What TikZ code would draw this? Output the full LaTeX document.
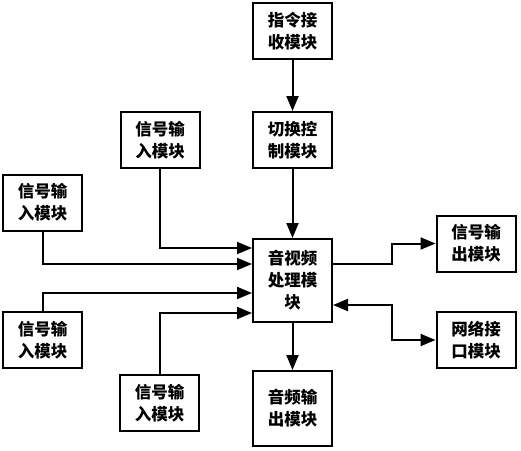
\documentclass[tikz,border=0pt]{standalone}
\usepackage{fontspec}
\newfontfamily\cjk{Noto Sans CJK SC}
\usetikzlibrary{arrows.meta,positioning}

\begin{document}
\begin{tikzpicture}[x=1pt,y=-1pt,line width=2pt,
				node distance=51pt,
				link/.style={-{Triangle[length=15pt,width=12pt]}},
				both link/.style={{Triangle[length=15pt,width=12pt]}-{Triangle[length=15pt,width=12pt]}},
				main node/.style={draw,rectangle,minimum width=79pt,minimum height=56pt,align=center,inner sep=2pt,
				font=\cjk\bfseries\fontsize{16.5}{22}\selectfont}]
				
				\useasboundingbox (0,0) rectangle (521,450);
				
				\node[main node] (cmd) at (292.5,31) {指令接\\收模块};
				\node[main node] (sw) [below=51pt of cmd] {切换控\\制模块};
				\node[main node,minimum height=83pt] (av) [below=69pt of sw] {音视频\\处理模\\块};
				\node[main node,minimum height=75pt] (aout) [below=47pt of av] {音频输\\出模块};
				\node[main node] (sout) at (476,243.5) {信号输\\出模块};
				\node[main node] (net) at (476,340) {网络接\\口模块};
				\node[main node] (in1) at (160,140) {信号输\\入模块};
				\node[main node] (in2) at (42.5,202.5) {信号输\\入模块};
				\node[main node] (in3) at (42.5,340) {信号输\\入模块};
				\node[main node] (in4) at (159.5,403) {信号输\\入模块};
				
				\draw[link] (cmd) -- (sw);
				\draw[link] (sw) -- (av);
				\draw[link] (av) -- (aout);
				
				\draw[link] (in1.south) |- ([yshift=32.5pt]av.west);
				\draw[link] (in2.south) |- ([yshift=16.5pt]av.west);
				\draw[link] (in3.north) |- ([yshift=-12.5pt]av.west);
				\draw[link] (in4.north) |- ([yshift=-32.5pt]av.west);
				
				\draw[link] ([yshift=16.5pt]av.east) -- ++(59,0) |- (sout.west);
				\draw[both link] ([yshift=-24.5pt]av.east) -- ++(59,0) |- (net.west);
				
				\end{tikzpicture}
\end{document}
